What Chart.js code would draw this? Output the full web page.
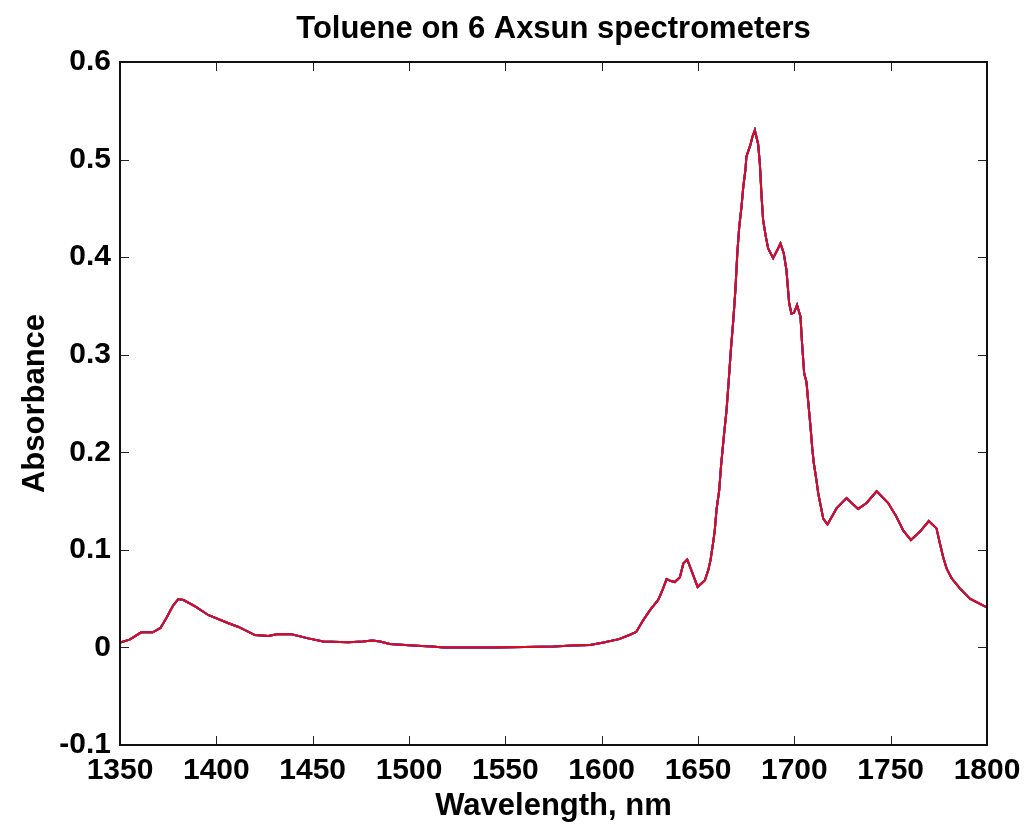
<!DOCTYPE html>
<html>
<head>
<meta charset="utf-8">
<title>Toluene on 6 Axsun spectrometers</title>
<script src="https://cdn.jsdelivr.net/npm/chart.js@4/dist/chart.umd.min.js"></script>
<style>
    body { margin: 0; background: #fff; }
    #wrap { width: 1024px; height: 825px; }
</style>
</head>
<body>
<div id="wrap"><canvas id="spectraChart" width="1024" height="825"></canvas></div>
<script>
// values
const wavelength = [
    1350, 1355, 1361, 1367, 1371, 1374, 1377.7, 1380.3, 1383, 1389,
    1396, 1406, 1411.5, 1420, 1427, 1432, 1439, 1447.7, 1455.5, 1468.5,
    1476, 1481, 1485, 1490, 1504, 1512, 1518, 1545, 1575, 1585,
    1594, 1601, 1609, 1614.7, 1618, 1621.6, 1625, 1629.4, 1631.6, 1633.7,
    1636, 1638, 1640.6, 1642.4, 1644.4, 1646.6, 1647.9, 1649.8, 1651.5, 1653.6,
    1655.3, 1656.5, 1657.9, 1658.7, 1659.6, 1661, 1662, 1663.4, 1664.8, 1666,
    1667.1, 1668.3, 1669.4, 1670.4, 1671.4, 1672.6, 1673.5, 1674.7, 1675.1, 1677.2,
    1678.2, 1679.5, 1681.2, 1682.1, 1683, 1683.8, 1685.2, 1686.4, 1689, 1691.1,
    1692.8, 1694.5, 1695.9, 1697.3, 1698.5, 1699.8, 1701.4, 1703.2, 1704, 1705.1,
    1706.3, 1707.2, 1708.4, 1709.3, 1710.1, 1711.5, 1712.4, 1713.6, 1715, 1717.2,
    1721.9, 1727.1, 1733.1, 1737.5, 1742.7, 1748.7, 1753, 1756.5, 1760.5, 1765.1,
    1769.8, 1773.8, 1775.5, 1777.2, 1779, 1781.6, 1785.9, 1791.1, 1798.9, 1800
];
const absorbance = [
    0.005, 0.008, 0.0155, 0.0155, 0.020, 0.030, 0.0435, 0.0496, 0.0486, 0.042,
    0.033, 0.025, 0.021, 0.0127, 0.0117, 0.0137, 0.0134, 0.0093, 0.006, 0.0052,
    0.006, 0.007, 0.006, 0.0035, 0.0018, 0.001, 0.0, 0.0, 0.001, 0.002,
    0.0025, 0.005, 0.0085, 0.013, 0.016, 0.028, 0.038, 0.049, 0.059, 0.070,
    0.068, 0.067, 0.072, 0.086, 0.090, 0.079, 0.072, 0.062, 0.065, 0.069,
    0.079, 0.0895, 0.108, 0.120, 0.141, 0.161, 0.187, 0.216, 0.243, 0.275,
    0.306, 0.335, 0.366, 0.404, 0.431, 0.452, 0.472, 0.491, 0.503, 0.515,
    0.523, 0.530, 0.516, 0.496, 0.462, 0.438, 0.421, 0.409, 0.399, 0.407,
    0.414, 0.404, 0.387, 0.353, 0.342, 0.343, 0.351, 0.339, 0.312, 0.281,
    0.272, 0.252, 0.226, 0.204, 0.189, 0.171, 0.158, 0.146, 0.132, 0.126,
    0.1425, 0.153, 0.142, 0.148, 0.160, 0.148, 0.134, 0.120, 0.110, 0.1185,
    0.1295, 0.122, 0.107, 0.093, 0.081, 0.071, 0.0605, 0.050, 0.042, 0.041
];
// the six instruments overlap to within a pixel, so they share one trace
// (chart.js draws dataset 0 last, so the red one goes first)
const instruments = ['Axsun 6', 'Axsun 5', 'Axsun 4', 'Axsun 3', 'Axsun 2', 'Axsun 1'];
const lineColors = ['rgba(255,0,0,0.85)', '#1f3fd0', '#c020c0', '#20b8c0', '#20a040', '#5030a0'];
const xTicks = [1350, 1400, 1450, 1500, 1550, 1600, 1650, 1700, 1750, 1800];
const yTicks = [-0.1, 0, 0.1, 0.2, 0.3, 0.4, 0.5, 0.6];

const FONT = "'Liberation Sans', Arial, sans-serif";

// box, inward ticks on all four sides and the title
const matlabAxes = {
    id: 'matlabAxes',
    afterDraw(chart) {
        const ctx = chart.ctx;
        const a = chart.chartArea;
        const xs = chart.scales.x;
        const ys = chart.scales.y;
        const tl = 9;
        ctx.save();
        ctx.strokeStyle = '#222';
        ctx.lineWidth = 1;
        ctx.beginPath();
        xTicks.forEach(v => {
            const px = Math.round(xs.getPixelForValue(v)) + 0.5;
            ctx.moveTo(px, a.bottom); ctx.lineTo(px, a.bottom - tl);
            ctx.moveTo(px, a.top); ctx.lineTo(px, a.top + tl);
        });
        yTicks.forEach(v => {
            const py = Math.round(ys.getPixelForValue(v)) + 0.5;
            ctx.moveTo(a.left, py); ctx.lineTo(a.left + tl, py);
            ctx.moveTo(a.right, py); ctx.lineTo(a.right - tl, py);
        });
        ctx.stroke();
        ctx.lineWidth = 2;
        ctx.strokeStyle = '#111';
        ctx.strokeRect(a.left, a.top, a.right - a.left, a.bottom - a.top);

        ctx.fillStyle = '#000';
        ctx.font = 'bold 31px ' + FONT;
        ctx.textAlign = 'center';
        ctx.textBaseline = 'middle';
        ctx.fillText('Toluene on 6 Axsun spectrometers', (a.left + a.right) / 2, 29);
        ctx.restore();
    }
};

const ctx = document.getElementById('spectraChart').getContext('2d');
const spectraChart = new Chart(ctx, {
    type: 'line',
    data: {
        datasets: instruments.map((name, i) => ({
            label: name,
            data: wavelength.map((w, j) => ({ x: w, y: absorbance[j] })),
            borderColor: lineColors[i],
            borderWidth: 2,
            pointRadius: 0,
            tension: 0,
            fill: false
        }))
    },
    options: {
        responsive: false,
        animation: false,
        layout: { padding: { top: 62, right: 37, left: 0, bottom: 0 } },
        plugins: {
            legend: { display: false },
            tooltip: { enabled: false },
            title: { display: false }
        },
        scales: {
            x: {
                type: 'linear',
                min: 1350,
                max: 1800,
                afterBuildTicks: scale => { scale.ticks = xTicks.map(v => ({ value: v })); },
                afterFit: scale => {
                    scale.height = 80;
                    scale.paddingLeft = 0;
                    scale.paddingRight = 0;
                },
                grid: { display: false, drawTicks: false },
                border: { display: false },
                ticks: {
                    autoSkip: false,
                    maxRotation: 0,
                    padding: 8,
                    color: '#000',
                    font: { family: FONT, size: 30, weight: 'bold' },
                    callback: v => String(v)
                },
                title: {
                    display: true,
                    text: 'Wavelength, nm',
                    color: '#000',
                    padding: { top: 0, bottom: 0 },
                    font: { family: FONT, size: 31, weight: 'bold' }
                }
            },
            y: {
                min: -0.1,
                max: 0.6,
                afterBuildTicks: scale => { scale.ticks = yTicks.map(v => ({ value: v })); },
                afterFit: scale => { scale.width = 120; },
                grid: { display: false, drawTicks: false },
                border: { display: false },
                ticks: {
                    autoSkip: false,
                    padding: 9,
                    color: '#000',
                    font: { family: FONT, size: 30, weight: 'bold' },
                    callback: v => (Math.abs(v) < 1e-9 ? '0' : v.toFixed(1))
                },
                title: {
                    display: true,
                    text: 'Absorbance',
                    color: '#000',
                    padding: { top: 17, bottom: 0 },
                    font: { family: FONT, size: 31, weight: 'bold' }
                }
            }
        }
    },
    plugins: [matlabAxes]
});
</script>
</body>
</html>
